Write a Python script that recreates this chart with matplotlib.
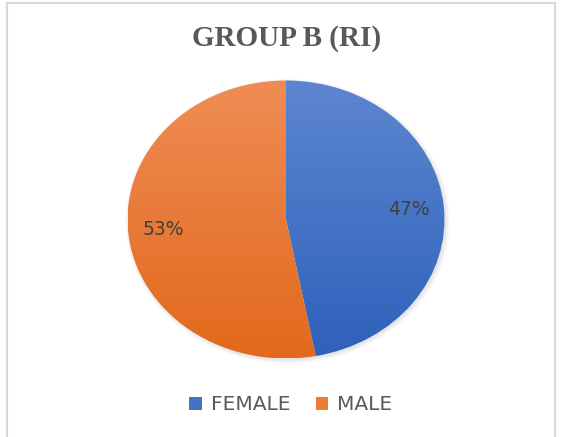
import numpy as np
import matplotlib
matplotlib.use("Agg")
import matplotlib.pyplot as plt
from matplotlib.patches import Rectangle, Patch, Ellipse
from matplotlib.colors import LinearSegmentedColormap

labels = ["FEMALE", "MALE"]
values = [47, 53]
top_colors = ["#5D86D0", "#EF8C55"]
bottom_colors = ["#2E61BB", "#E2691C"]
legend_colors = ["#4472C4", "#ED7D31"]

fig = plt.figure(figsize=(5.61, 4.37), dpi=100)
fig.patch.set_facecolor("white")

# chart border
fig.patches.append(Rectangle((7 / 561, -0.01), 548 / 561, 1 - 3 / 437 + 0.01,
                             transform=fig.transFigure, fill=False,
                             edgecolor="#D9D9D9", linewidth=1.5))

fig.text(287 / 561, 1 - 39 / 437, "GROUP B (RI)", ha="center", va="center",
         fontsize=21, fontweight="bold", family="Liberation Serif",
         color="#595959")

# pie centre at (286, 219.5) px, radii 158.5 x 139 px, limits +-1.05
lim = 1.05
rx, ry = 158.5, 139
ax = fig.add_axes([(286 - lim * rx) / 561, (437 - 219.5 - lim * ry) / 437,
                   2 * lim * rx / 561, 2 * lim * ry / 437])
ax.set_xlim(-lim, lim)
ax.set_ylim(-lim, lim)

# soft shadow under the pie
for i in range(5):
    ax.add_patch(Ellipse((0.01, -0.012), 2 + 0.012 * i, 2 + 0.012 * i,
                         facecolor="black", alpha=0.02, edgecolor="none",
                         zorder=0))

wedges, texts, autotexts = ax.pie(values, startangle=90, counterclock=False,
                                  autopct="%.0f%%", pctdistance=0.78,
                                  colors=legend_colors,
                                  textprops=dict(fontsize=13.5, color="#404040"))
ax.set_aspect("auto")

grad = np.linspace(0, 1, 256).reshape(-1, 1)
for w, c0, c1 in zip(wedges, top_colors, bottom_colors):
    cmap = LinearSegmentedColormap.from_list("g", [c0, c1])
    im = ax.imshow(grad, extent=(-1, 1, -1, 1), cmap=cmap, aspect="auto",
                   origin="upper", zorder=w.get_zorder())
    im.set_clip_path(w)
    w.set_facecolor("none")
    w.set_edgecolor("none")
for t in autotexts:
    t.set_zorder(5)
ax.set_xlim(-lim, lim)
ax.set_ylim(-lim, lim)

handles = [Patch(facecolor=c, label=l) for c, l in zip(legend_colors, labels)]
fig.legend(handles=handles, loc="center", bbox_to_anchor=(291 / 561, 1 - 405 / 437),
           ncol=2, frameon=False, fontsize=14.5, labelcolor="#595959",
           handlelength=0.6, handleheight=0.6, handletextpad=0.45,
           columnspacing=1.3)

fig.savefig("out.png", dpi=100)
